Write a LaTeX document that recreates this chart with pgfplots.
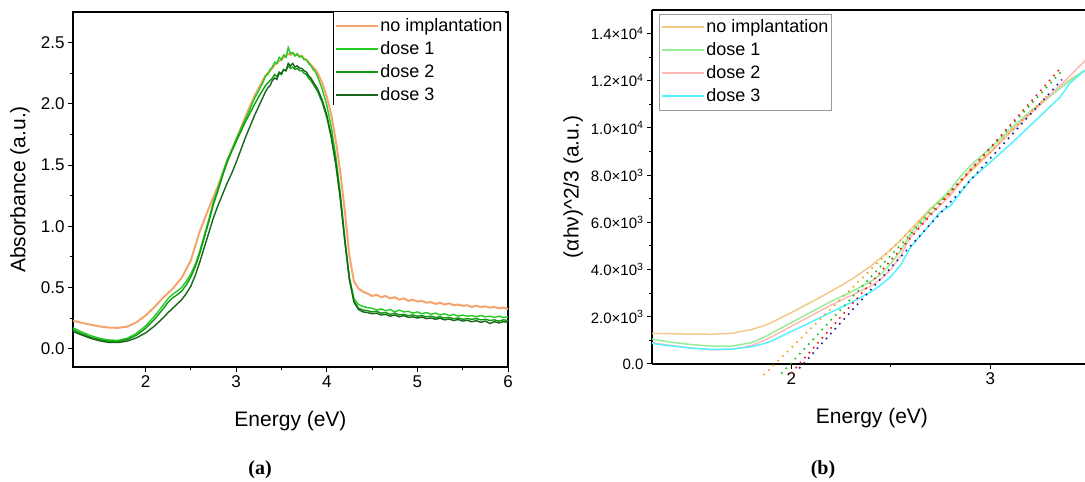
\documentclass[border=0pt]{standalone}
\usepackage{fontspec}
\setmainfont{Liberation Sans}
\newfontfamily\capfont{Liberation Serif}
\usepackage{pgfplots}
\pgfplotsset{compat=1.18}
\definecolor{orangeA}{HTML}{F4A46C}
\definecolor{gA}{HTML}{22CC22}
\definecolor{gB}{HTML}{109A10}
\definecolor{gC}{HTML}{17661A}
\definecolor{tanB}{HTML}{F2C98A}
\definecolor{greenB}{HTML}{98EE98}
\definecolor{pinkB}{HTML}{FFB9B9}
\definecolor{cyanB}{HTML}{55F2FF}
\definecolor{dotO}{HTML}{F0A020}
\definecolor{dotG}{HTML}{10C010}
\definecolor{dotR}{HTML}{FF1010}
\definecolor{dotB}{HTML}{1A1A9A}
\pgfplotsset{myax/.style={scale only axis, tick align=outside,
  axis line style={line width=1.2pt}, every tick/.append style={black, line width=1pt},
  major tick length=5pt, minor tick length=3pt,
  /pgf/number format/assume math mode=true, legend cell align=left,
  legend image code/.code={\draw[##1, line width=2pt] (0pt,0.5pt) -- (42pt,0.5pt);}}}
\begin{document}
\begin{tikzpicture}
\useasboundingbox (0,0) rectangle (1085pt,482pt);
% ---------------- panel (a)
\begin{axis}[myax, at={(73pt,115pt)}, anchor=south west, width=435pt, height=355pt,
  tick pos=left,
  xmin=1.2, xmax=6, ymin=-0.15, ymax=2.75,
  xtick={2,3,4,5,6}, ytick={0,0.5,1,1.5,2,2.5},
  minor x tick num=1, minor y tick num=1,
  yticklabel style={/pgf/number format/.cd, fixed, fixed zerofill, precision=1},
  tick label style={font=\fontsize{17}{20}\selectfont},
  xlabel={Energy (eV)}, ylabel={Absorbance (a.u.)},
  label style={font=\fontsize{21}{24}\selectfont},
  xlabel style={at={(axis description cs:0.5,-0.152)}, anchor=center},
  ylabel style={at={(axis description cs:-0.122,0.5)}, anchor=center},
  legend style={at={(0.598,1)}, anchor=north west, draw=none, fill=white,
    font=\fontsize{18}{21}\selectfont, inner xsep=2pt, inner ysep=5pt, row sep=4pt,
    nodes={inner sep=1pt, text height=13pt, text depth=4pt}}]
\addplot[orangeA, line width=2pt] coordinates {(1.2,0.229)(1.3,0.21)(1.4,0.195)(1.5,0.18)(1.6,0.172)(1.7,0.17)(1.8,0.18)(1.9,0.215)(2.0,0.27)(2.1,0.34)(2.2,0.42)(2.3,0.49)(2.4,0.58)(2.5,0.72)(2.6,0.96)(2.7,1.15)(2.75,1.24)(2.8,1.33)(2.9,1.53)(3.0,1.71)(3.1,1.89)(3.2,2.06)(3.3,2.20)(3.325,2.23)(3.35,2.25)(3.375,2.27)(3.4,2.29)(3.425,2.32)(3.45,2.33)(3.475,2.35)(3.5,2.36)(3.525,2.38)(3.55,2.39)(3.575,2.41)(3.6,2.40)(3.625,2.41)(3.65,2.40)(3.675,2.40)(3.7,2.39)(3.725,2.39)(3.75,2.37)(3.775,2.36)(3.8,2.34)(3.825,2.32)(3.85,2.30)(3.875,2.28)(3.9,2.25)(3.95,2.17)(4.0,2.06)(4.05,1.91)(4.1,1.70)(4.15,1.44)(4.2,1.12)(4.25,0.76)(4.3,0.55)(4.35,0.49)(4.4,0.465)(4.45,0.45)(4.5,0.43)(4.55,0.44)(4.6,0.42)(4.65,0.43)(4.7,0.41)(4.75,0.42)(4.8,0.40)(4.85,0.41)(4.9,0.39)(4.95,0.40)(5.0,0.385)(5.05,0.39)(5.1,0.375)(5.15,0.38)(5.2,0.365)(5.25,0.375)(5.3,0.36)(5.35,0.37)(5.4,0.355)(5.45,0.36)(5.5,0.35)(5.55,0.355)(5.6,0.34)(5.65,0.35)(5.7,0.34)(5.75,0.345)(5.8,0.335)(5.85,0.34)(5.9,0.33)(5.95,0.335)(6.0,0.325)};
\addlegendentry{no implantation}
\addplot[gA, line width=1.4pt] coordinates {(1.2,0.17)(1.3,0.135)(1.4,0.105)(1.5,0.083)(1.6,0.07)(1.7,0.068)(1.8,0.085)(1.9,0.125)(2.0,0.185)(2.1,0.265)(2.2,0.36)(2.25,0.41)(2.3,0.445)(2.35,0.47)(2.4,0.50)(2.45,0.55)(2.5,0.61)(2.55,0.69)(2.6,0.80)(2.65,0.93)(2.7,1.06)(2.75,1.20)(2.8,1.31)(2.85,1.43)(2.9,1.54)(2.95,1.62)(3.0,1.71)(3.05,1.79)(3.1,1.87)(3.15,1.95)(3.2,2.04)(3.25,2.11)(3.3,2.18)(3.325,2.23)(3.35,2.24)(3.375,2.28)(3.4,2.30)(3.425,2.34)(3.45,2.33)(3.475,2.38)(3.5,2.36)(3.525,2.40)(3.55,2.38)(3.575,2.46)(3.6,2.41)(3.625,2.42)(3.65,2.39)(3.675,2.41)(3.7,2.38)(3.725,2.39)(3.75,2.36)(3.775,2.36)(3.8,2.33)(3.825,2.31)(3.85,2.28)(3.875,2.26)(3.9,2.22)(3.95,2.12)(4.0,1.99)(4.05,1.81)(4.1,1.57)(4.15,1.27)(4.2,0.90)(4.25,0.58)(4.3,0.41)(4.35,0.36)(4.4,0.345)(4.45,0.335)(4.5,0.33)(4.55,0.315)(4.6,0.325)(4.65,0.31)(4.7,0.32)(4.75,0.30)(4.8,0.315)(4.85,0.30)(4.9,0.305)(4.95,0.29)(5.0,0.30)(5.05,0.285)(5.1,0.295)(5.15,0.28)(5.2,0.29)(5.25,0.275)(5.3,0.285)(5.35,0.27)(5.4,0.28)(5.45,0.265)(5.5,0.275)(5.55,0.265)(5.6,0.27)(5.65,0.26)(5.7,0.27)(5.75,0.26)(5.8,0.265)(5.85,0.255)(5.9,0.265)(5.95,0.255)(6.0,0.26)};
\addlegendentry{dose 1}
\addplot[gB, line width=1.4pt] coordinates {(1.2,0.155)(1.3,0.12)(1.4,0.092)(1.5,0.072)(1.6,0.06)(1.7,0.058)(1.8,0.075)(1.9,0.11)(2.0,0.165)(2.1,0.24)(2.2,0.33)(2.25,0.38)(2.3,0.415)(2.35,0.44)(2.4,0.47)(2.45,0.52)(2.5,0.585)(2.55,0.67)(2.6,0.78)(2.65,0.91)(2.7,1.04)(2.75,1.18)(2.8,1.29)(2.85,1.41)(2.9,1.52)(2.95,1.61)(3.0,1.69)(3.05,1.77)(3.1,1.85)(3.15,1.92)(3.2,1.99)(3.25,2.06)(3.3,2.12)(3.325,2.15)(3.35,2.17)(3.375,2.19)(3.4,2.21)(3.425,2.24)(3.45,2.22)(3.475,2.26)(3.5,2.25)(3.525,2.28)(3.55,2.27)(3.575,2.31)(3.6,2.29)(3.625,2.30)(3.65,2.28)(3.675,2.29)(3.7,2.27)(3.725,2.27)(3.75,2.25)(3.775,2.24)(3.8,2.21)(3.825,2.19)(3.85,2.16)(3.875,2.13)(3.9,2.10)(3.95,2.01)(4.0,1.89)(4.05,1.72)(4.1,1.50)(4.15,1.22)(4.2,0.87)(4.25,0.56)(4.3,0.39)(4.35,0.33)(4.4,0.315)(4.45,0.31)(4.5,0.30)(4.55,0.305)(4.6,0.29)(4.65,0.295)(4.7,0.28)(4.75,0.29)(4.8,0.275)(4.85,0.28)(4.9,0.27)(4.95,0.275)(5.0,0.265)(5.05,0.27)(5.1,0.26)(5.15,0.265)(5.2,0.255)(5.25,0.26)(5.3,0.25)(5.35,0.255)(5.4,0.245)(5.45,0.25)(5.5,0.24)(5.55,0.245)(5.6,0.24)(5.65,0.245)(5.7,0.235)(5.75,0.24)(5.8,0.23)(5.85,0.235)(5.9,0.225)(5.95,0.235)(6.0,0.23)};
\addlegendentry{dose 2}
\addplot[gC, line width=1.4pt] coordinates {(1.2,0.14)(1.3,0.11)(1.4,0.083)(1.5,0.063)(1.6,0.05)(1.7,0.05)(1.8,0.062)(1.9,0.088)(2.0,0.128)(2.1,0.185)(2.2,0.255)(2.25,0.295)(2.3,0.33)(2.35,0.365)(2.4,0.40)(2.45,0.45)(2.5,0.51)(2.55,0.60)(2.6,0.71)(2.65,0.83)(2.7,0.95)(2.75,1.07)(2.8,1.17)(2.85,1.26)(2.9,1.35)(2.95,1.43)(3.0,1.52)(3.05,1.62)(3.1,1.72)(3.15,1.81)(3.2,1.90)(3.25,1.98)(3.3,2.06)(3.325,2.10)(3.35,2.13)(3.375,2.15)(3.4,2.19)(3.425,2.21)(3.45,2.20)(3.475,2.25)(3.5,2.24)(3.525,2.28)(3.55,2.27)(3.575,2.33)(3.6,2.31)(3.625,2.33)(3.65,2.30)(3.675,2.31)(3.7,2.29)(3.725,2.29)(3.75,2.27)(3.775,2.26)(3.8,2.23)(3.825,2.21)(3.85,2.18)(3.875,2.15)(3.9,2.12)(3.95,2.03)(4.0,1.91)(4.05,1.74)(4.1,1.52)(4.15,1.23)(4.2,0.88)(4.25,0.57)(4.3,0.38)(4.35,0.32)(4.4,0.30)(4.45,0.295)(4.5,0.285)(4.55,0.29)(4.6,0.275)(4.65,0.28)(4.7,0.265)(4.75,0.275)(4.8,0.26)(4.85,0.27)(4.9,0.255)(4.95,0.26)(5.0,0.25)(5.05,0.258)(5.1,0.245)(5.15,0.25)(5.2,0.24)(5.25,0.248)(5.3,0.235)(5.35,0.242)(5.4,0.23)(5.45,0.238)(5.5,0.225)(5.55,0.232)(5.6,0.22)(5.65,0.228)(5.7,0.215)(5.75,0.225)(5.8,0.205)(5.85,0.22)(5.9,0.21)(5.95,0.22)(6.0,0.215)};
\addlegendentry{dose 3}
\end{axis}
\draw[line width=1pt] (333pt,470pt) -- (333pt,377pt);
% ---------------- panel (b)
\begin{axis}[myax, at={(652pt,118pt)}, anchor=south west, width=433pt, height=354pt,
  axis x line*=box, axis y line*=left, tick pos=left, clip=false,
  xmin=1.30, xmax=3.476, ymin=0, ymax=15000,
  xtick={2,3}, minor x tick num=1,
  ytick={0,2000,4000,6000,8000,10000,12000,14000}, minor y tick num=1,
  yticklabels={0.0,2.0×10\textsuperscript{3},4.0×10\textsuperscript{3},6.0×10\textsuperscript{3},8.0×10\textsuperscript{3},1.0×10\textsuperscript{4},1.2×10\textsuperscript{4},1.4×10\textsuperscript{4}},
  scaled y ticks=false,
  xticklabel style={font=\fontsize{17}{20}\selectfont},
  yticklabel style={font=\fontsize{15}{18}\selectfont},
  xlabel={Energy (eV)}, ylabel={(αhν)\textasciicircum 2/3 (a.u.)},
  label style={font=\fontsize{21}{24}\selectfont},
  xlabel style={at={(axis description cs:0.508,-0.153)}, anchor=center},
  ylabel style={at={(axis description cs:-0.182,0.5)}, anchor=center},
  legend style={at={(0.016,0.989)}, anchor=north west, draw=black!40, line width=0.8pt, fill=white,
    font=\fontsize{18}{21}\selectfont, inner xsep=2pt, inner ysep=4pt, row sep=4pt,
    nodes={inner sep=1pt, text height=13pt, text depth=4pt}}]
\addplot[tanB, line width=1.5pt] coordinates {(1.30,1300)(1.40,1280)(1.50,1265)(1.60,1260)(1.70,1300)(1.80,1460)(1.87,1640)(1.90,1760)(2.0,2180)(2.1,2620)(2.2,3080)(2.3,3570)(2.4,4150)(2.5,4850)(2.55,5250)(2.6,5700)(2.7,6600)(2.8,7250)(2.85,7700)(2.9,8150)(3.0,8950)(3.1,9800)(3.2,10600)(3.3,11350)(3.4,12050)(3.476,12450)};
\addlegendentry{no implantation}
\addplot[greenB, line width=1.5pt] coordinates {(1.30,1050)(1.40,920)(1.50,820)(1.60,760)(1.70,760)(1.80,900)(1.87,1160)(1.90,1300)(2.0,1750)(2.1,2200)(2.2,2650)(2.3,3050)(2.4,3500)(2.45,3800)(2.5,4250)(2.55,4800)(2.6,5550)(2.7,6550)(2.8,7400)(2.85,7950)(2.9,8400)(3.0,9150)(3.1,9950)(3.2,10700)(3.3,11350)(3.4,12000)(3.476,12450)};
\addlegendentry{dose 1}
\addplot[pinkB, line width=1.5pt] coordinates {(1.30,900)(1.40,780)(1.50,680)(1.60,600)(1.70,620)(1.80,780)(1.87,1020)(1.90,1150)(2.0,1600)(2.1,2050)(2.2,2500)(2.3,2900)(2.4,3300)(2.45,3600)(2.5,4000)(2.55,4600)(2.6,5400)(2.7,6350)(2.8,7150)(2.85,7700)(2.9,8250)(3.0,9000)(3.1,9850)(3.2,10650)(3.3,11400)(3.4,12200)(3.44,12550)(3.476,12850)};
\addlegendentry{dose 2}
\addplot[cyanB, line width=1.5pt] coordinates {(1.30,870)(1.40,760)(1.50,670)(1.60,620)(1.70,630)(1.80,730)(1.87,880)(1.90,970)(2.0,1380)(2.1,1780)(2.2,2200)(2.3,2600)(2.4,3050)(2.45,3350)(2.5,3700)(2.55,4200)(2.6,4950)(2.7,5950)(2.75,6450)(2.8,6700)(2.85,7250)(2.9,7800)(3.0,8550)(3.1,9300)(3.2,10100)(3.3,10900)(3.35,11300)(3.4,11900)(3.476,12450)};
\addlegendentry{dose 3}
\addplot[dotO, line width=1.6pt, dash pattern=on 1.6pt off 5pt, forget plot] coordinates {(1.86,-473)(3.30,11479)};
\addplot[dotG, line width=1.6pt, dash pattern=on 1.6pt off 5pt, forget plot] coordinates {(1.95,-410)(3.36,12420)};
\addplot[dotR, line width=1.6pt, dash pattern=on 1.6pt off 5pt, forget plot] coordinates {(2.0,-382)(3.35,12510)};
\addplot[dotB, line width=1.6pt, dash pattern=on 1.6pt off 5pt, forget plot] coordinates {(2.04,-185)(3.36,12050)};
\end{axis}
\node[font=\capfont\bfseries\fontsize{20}{24}\selectfont] at (260pt,12pt) {(a)};
\node[font=\capfont\bfseries\fontsize{20}{24}\selectfont] at (823pt,12pt) {(b)};
\end{tikzpicture}
\end{document}
